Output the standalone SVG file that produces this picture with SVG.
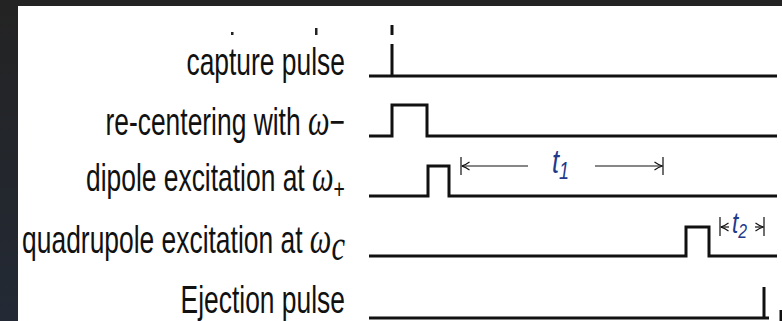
<svg xmlns="http://www.w3.org/2000/svg" width="782" height="321" viewBox="0 0 782 321">
  <defs>
    <linearGradient id="frame" x1="0" y1="0" x2="0" y2="1">
      <stop offset="0" stop-color="#232323"/>
      <stop offset="1" stop-color="#232a35"/>
    </linearGradient>
    <marker id="barb" viewBox="0 0 10 10" refX="10" refY="5" markerWidth="10" markerHeight="10" markerUnits="userSpaceOnUse" orient="auto">
      <path d="M2 1 Q6 4 10 5 Q6 6 2 9" fill="none" stroke="#111" stroke-width="1.1"/>
    </marker>
    <style>
      .lbl { font-family: "Liberation Sans", Arial, sans-serif; font-size: 38px; fill: #111; text-anchor: end; }
      .sym { font-family: "Liberation Serif", "DejaVu Serif", serif; font-style: italic; font-size: 44px; }
      .sig { fill: none; stroke: #111; stroke-width: 3; stroke-linejoin: miter; stroke-linecap: butt; }
      .dim { fill: none; stroke: #111; stroke-width: 1.2; }
      .tlab { font-family: "Liberation Sans", Arial, sans-serif; font-style: italic; fill: #22398a; }
    </style>
  </defs>

  <!-- page frame -->
  <rect width="782" height="321" fill="url(#frame)"/>
  <rect x="18" y="6" width="764" height="315" fill="#ffffff"/>

  <!-- fragments of a line cut off at the top -->
  <rect x="231" y="32" width="2.5" height="3" fill="#222"/>
  <rect x="315" y="28" width="2.5" height="7" fill="#222"/>

  <!-- labels, horizontally condensed -->
  <g id="label-capture" transform="matrix(0.695,0,0,1,345,0)">
    <text class="lbl" x="0" y="75">capture pulse</text>
  </g>
  <g id="label-recenter" transform="matrix(0.695,0,0,1,345,0)">
    <text class="lbl" x="0" y="135">re-centering with <tspan class="sym">ω</tspan>−</text>
  </g>
  <g id="label-dipole" transform="matrix(0.695,0,0,1,345,0)">
    <text class="lbl" x="0" y="191">dipole excitation at <tspan class="sym">ω</tspan><tspan font-size="28" dy="7">+</tspan></text>
  </g>
  <g id="label-quadrupole" transform="matrix(0.695,0,0,1,345,0)">
    <text class="lbl" x="0" y="253">quadrupole excitation at <tspan class="sym">ω</tspan><tspan class="sym" font-size="27" dy="7">c</tspan></text>
  </g>
  <g id="label-ejection" transform="matrix(0.695,0,0,1,345,0)">
    <text class="lbl" x="0" y="313">Ejection pulse</text>
  </g>

  <!-- timing traces -->
  <g id="trace-capture">
    <path class="sig" d="M369 76 H777 M392 76 V44"/>
    <path class="sig" stroke-width="2.5" d="M392 25 V35"/>
  </g>
  <g id="trace-recenter">
    <path class="sig" d="M369 136 H392 V105 H427 V136 H777"/>
  </g>
  <g id="trace-dipole">
    <path class="sig" d="M369 196 H428 V166 H449 V196 H777"/>
  </g>
  <g id="trace-quadrupole">
    <path class="sig" d="M369 256 H686 V227 H709 V256 H777"/>
  </g>
  <g id="trace-ejection">
    <path class="sig" d="M369 318 H769 M764 318 V287"/>
    <path class="sig" stroke-width="2" d="M781 310 V321"/>
  </g>

  <!-- interval markers -->
  <g id="connectors">
    <g id="interval-t1">
      <path class="dim" d="M461 157 V175 M663 157 V175"/>
      <path class="dim" d="M528 166 H461.5" marker-end="url(#barb)"/>
      <path class="dim" d="M595 166 H662.5" marker-end="url(#barb)"/>
      <g transform="matrix(0.75,0,0,1,552,0)">
        <text class="tlab" x="0" y="173" font-size="34">t<tspan font-size="24" dy="6">1</tspan></text>
      </g>
    </g>
    <g id="interval-t2">
      <path class="dim" d="M720 217 V236 M764 217 V236"/>
      <path class="dim" d="M729 227 H720.5" marker-end="url(#barb)"/>
      <path class="dim" d="M755 227 H763.5" marker-end="url(#barb)"/>
      <g transform="matrix(0.75,0,0,1,732,0)">
        <text class="tlab" x="0" y="233" font-size="30">t<tspan font-size="21" dy="5">2</tspan></text>
      </g>
    </g>
  </g>
</svg>
